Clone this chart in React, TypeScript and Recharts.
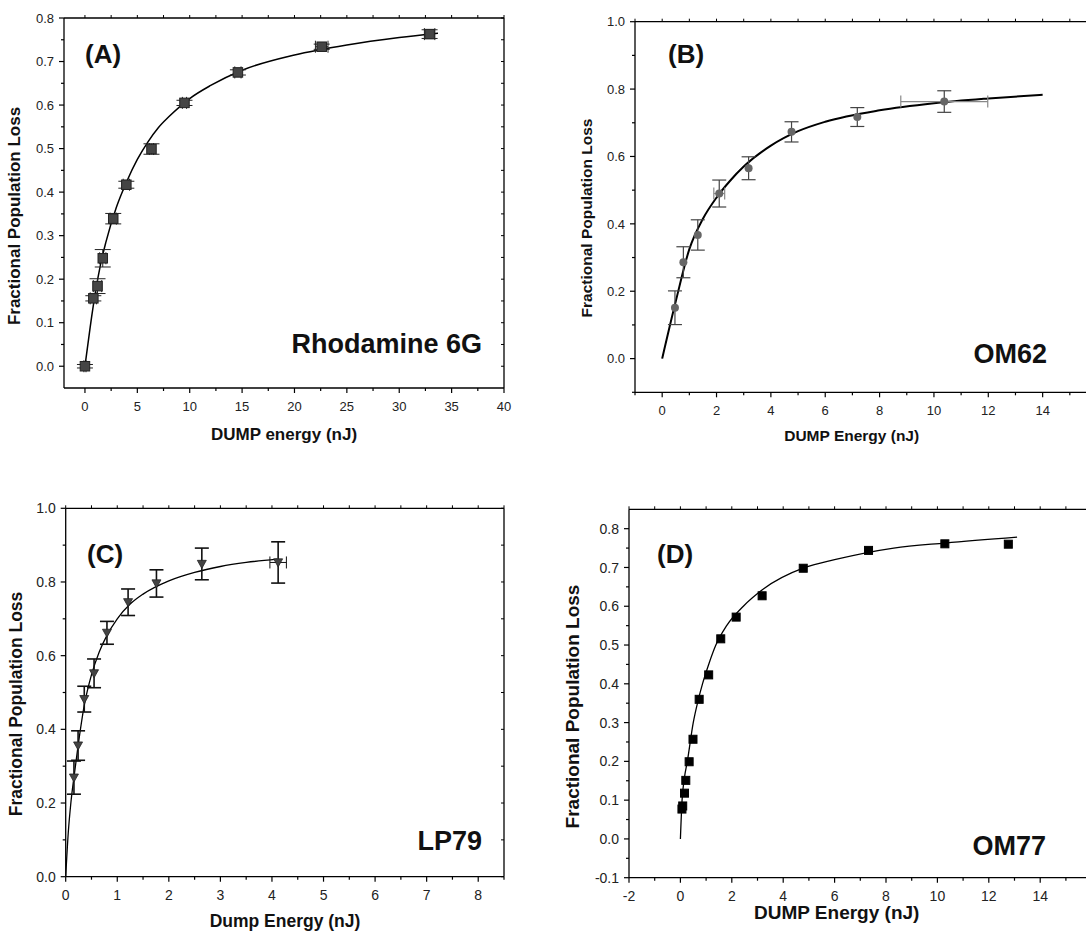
import { ComposedChart, Line, Scatter, XAxis, YAxis, ErrorBar } from "recharts";

const FONT = '"Liberation Sans", Arial, Helvetica, sans-serif';

// (A) Rhodamine 6G
const rhoEnergy = [0, 0.8, 1.2, 1.7, 2.7, 3.95, 6.35, 9.5, 14.6, 22.6, 32.9];
const rhoLoss = [0.0, 0.156, 0.184, 0.248, 0.339, 0.417, 0.499, 0.605, 0.675, 0.734, 0.763];
const rhoErrY = [0.004, 0.006, 0.017, 0.02, 0.012, 0.008, 0.012, 0.006, 0.006, 0.006, 0.01];
const rhoErrX = [0.1, 0.3, 0.4, 0.3, 0.3, 0.3, 0.2, 0.2, 0.3, 0.6, 0.5];
const rhoFitX = [0, 0.5, 1, 1.5, 2, 3, 4, 5, 6, 7, 8, 10, 12, 15, 20, 25, 30, 33.7];
const rhoFitY = [0, 0.09, 0.17, 0.235, 0.285, 0.365, 0.425, 0.475, 0.515, 0.548, 0.573, 0.615, 0.645, 0.68, 0.715, 0.738, 0.755, 0.765];

// (B) OM62
const om62Energy = [0.47, 0.78, 1.31, 2.1, 3.18, 4.76, 7.18, 10.38];
const om62Loss = [0.151, 0.286, 0.367, 0.49, 0.565, 0.673, 0.717, 0.763];
const om62ErrY = [0.05, 0.046, 0.045, 0.04, 0.034, 0.03, 0.028, 0.032];
const om62ErrX = [0, 0, 0, 0.2, 0, 0, 0, 1.6];
const om62FitX = [0, 0.5, 1, 1.5, 2, 2.5, 3, 4, 5, 6, 8, 10, 12, 14];
const om62FitY = [0, 0.17, 0.325, 0.415, 0.478, 0.528, 0.57, 0.632, 0.675, 0.703, 0.737, 0.758, 0.772, 0.783];

// (C) LP79
const lp79Energy = [0.16, 0.24, 0.36, 0.55, 0.8, 1.21, 1.76, 2.64, 4.12];
const lp79Loss = [0.269, 0.356, 0.482, 0.552, 0.662, 0.745, 0.796, 0.849, 0.853];
const lp79ErrY = [0.045, 0.04, 0.035, 0.039, 0.031, 0.036, 0.037, 0.043, 0.056];
const lp79ErrX = [0, 0, 0, 0, 0, 0, 0, 0, 0.16];
const lp79FitX = [0, 0.05, 0.1, 0.16, 0.24, 0.36, 0.5, 0.65, 0.8, 1.0, 1.25, 1.5, 2.0, 2.5, 3.0, 3.5, 4.1];
const lp79FitY = [0, 0.12, 0.2, 0.27, 0.355, 0.465, 0.548, 0.61, 0.655, 0.7, 0.74, 0.767, 0.803, 0.826, 0.842, 0.853, 0.862];

// (D) OM77
const om77Energy = [0.06, 0.09, 0.16, 0.21, 0.34, 0.49, 0.73, 1.1, 1.57, 2.17, 3.18, 4.78, 7.32, 10.29, 12.76];
const om77Loss = [0.077, 0.085, 0.118, 0.151, 0.199, 0.257, 0.36, 0.423, 0.516, 0.572, 0.627, 0.698, 0.744, 0.761, 0.76];
const om77FitX = [0, 0.065, 0.15, 0.27, 0.5, 0.7, 0.86, 1.1, 1.38, 1.8, 2.45, 3.2, 4.85, 6, 8.3, 10.3, 13.1];
const om77FitY = [0, 0.1, 0.155, 0.2, 0.3, 0.36, 0.4, 0.45, 0.5, 0.55, 0.6, 0.643, 0.7, 0.72, 0.75, 0.763, 0.778];

// tick positions
const aXMajor = [0, 5, 10, 15, 20, 25, 30, 35, 40];
const aXMinor = [2.5, 7.5, 12.5, 17.5, 22.5, 27.5, 32.5, 37.5];
const aYMajor = [0, 0.1, 0.2, 0.3, 0.4, 0.5, 0.6, 0.7, 0.8];
const aYMinor = [0.05, 0.15, 0.25, 0.35, 0.45, 0.55, 0.65, 0.75];
const bXMajor = [0, 2, 4, 6, 8, 10, 12, 14];
const bXMinor = [-1, 1, 3, 5, 7, 9, 11, 13, 15];
const bYMajor = [0, 0.2, 0.4, 0.6, 0.8, 1.0];
const bYMinor = [-0.1, 0.1, 0.3, 0.5, 0.7, 0.9];
const cXMajor = [0, 1, 2, 3, 4, 5, 6, 7, 8];
const cXMinor = [0.5, 1.5, 2.5, 3.5, 4.5, 5.5, 6.5, 7.5, 8.5];
const cYMajor = [0, 0.2, 0.4, 0.6, 0.8, 1.0];
const cYMinor = [0.1, 0.3, 0.5, 0.7, 0.9];
const dXMajor = [-2, 0, 2, 4, 6, 8, 10, 12, 14];
const dXMinor = [-1, 1, 3, 5, 7, 9, 11, 13, 15];
const dYMajor = [-0.1, 0, 0.1, 0.2, 0.3, 0.4, 0.5, 0.6, 0.7, 0.8];
const dYMinor = [-0.05, 0.05, 0.15, 0.25, 0.35, 0.45, 0.55, 0.65, 0.75];

type Pt = { x: number; y: number; ey?: number; ex?: number };

const toPoints = (xs: number[], ys: number[], ey?: number[], ex?: number[]): Pt[] =>
  xs.map((x, i) => ({ x, y: ys[i], ey: ey ? ey[i] : undefined, ex: ex ? ex[i] : undefined }));

const isIn = (list: number[], v: number) => list.some((m) => Math.abs(m - v) < 1e-6);
const fmt1 = (v: number) => v.toFixed(1);
const fmt0 = (v: number) => String(v);

function bottomTick(majors: number[], size: number, fmt: (v: number) => string) {
  return (props: any) => {
    const { x, y, payload } = props;
    const major = isIn(majors, payload.value);
    return (
      <g>
        <line x1={x} x2={x} y1={y} y2={y + (major ? 5 : 3)} stroke="#000" strokeWidth={1.2} />
        {major && (
          <text x={x} y={y + 23} textAnchor="middle" fontSize={size} fontFamily={FONT} fill="#222">
            {fmt(payload.value)}
          </text>
        )}
      </g>
    );
  };
}

function leftTick(majors: number[], size: number, fmt: (v: number) => string) {
  return (props: any) => {
    const { x, y, payload } = props;
    const major = isIn(majors, payload.value);
    return (
      <g>
        <line x1={x} x2={x - (major ? 5 : 3)} y1={y} y2={y} stroke="#000" strokeWidth={1.2} />
        {major && (
          <text x={x - 10} y={y} dy="0.36em" textAnchor="end" fontSize={size} fontFamily={FONT} fill="#222">
            {fmt(payload.value)}
          </text>
        )}
      </g>
    );
  };
}

const topTick = (props: any) => (
  <line x1={props.x} x2={props.x} y1={props.y} y2={props.y - 3} stroke="#000" strokeWidth={1} />
);

const rightTick = (props: any) => (
  <line x1={props.x} x2={props.x - 3} y1={props.y} y2={props.y} stroke="#000" strokeWidth={1} />
);

const xTitle = (text: string, cx: number, base: number, size: number) => () => (
  <text x={cx} y={base} textAnchor="middle" fontSize={size} fontWeight="bold" fontFamily={FONT} fill="#111">
    {text}
  </text>
);

const yTitle = (text: string, x: number, cy: number, size: number) => () => (
  <text
    x={x}
    y={cy}
    transform={`rotate(-90 ${x} ${cy})`}
    textAnchor="middle"
    fontSize={size}
    fontWeight="bold"
    fontFamily={FONT}
    fill="#111"
  >
    {text}
  </text>
);

interface PanelProps {
  left: number;
  top: number;
  width: number;
  height: number;
  margin: { top: number; right: number; bottom: number; left: number };
  yAxisWidth: number;
  xDomain: [number, number];
  yDomain: [number, number];
  xMajor: number[];
  xMinor: number[];
  yMajor: number[];
  yMinor: number[];
  tickSize: number;
  xLabel: string;
  xLabelAt: [number, number, number];
  yLabelAt: [number, number, number];
  points: Pt[];
  fit: Pt[];
  fitWidth: number;
  shape: (p: any) => any;
  errY?: { stroke: string; width: number; strokeWidth: number };
  errX?: { stroke: string; width: number; strokeWidth: number };
}

function Panel(p: PanelProps) {
  const xTicks = [...p.xMajor, ...p.xMinor].sort((a, b) => a - b);
  const yTicks = [...p.yMajor, ...p.yMinor].sort((a, b) => a - b);
  const axisLine = { stroke: "#000", strokeWidth: 1.3 };
  return (
    <div style={{ position: "absolute", left: p.left, top: p.top }}>
      <ComposedChart width={p.width} height={p.height} margin={p.margin}>
        <XAxis
          xAxisId="b"
          type="number"
          dataKey="x"
          domain={p.xDomain}
          allowDataOverflow
          ticks={xTicks}
          interval={0}
          tick={bottomTick(p.xMajor, p.tickSize, fmt0)}
          tickLine={false}
          tickSize={0}
          tickMargin={0}
          height={40}
          axisLine={axisLine}
          label={xTitle(p.xLabel, p.xLabelAt[0], p.xLabelAt[1], p.xLabelAt[2])}
        />
        <XAxis
          xAxisId="t"
          orientation="top"
          type="number"
          dataKey="x"
          domain={p.xDomain}
          allowDataOverflow
          ticks={xTicks}
          interval={0}
          tick={topTick}
          tickLine={false}
          tickSize={0}
          tickMargin={0}
          height={1}
          axisLine={axisLine}
        />
        <YAxis
          yAxisId="l"
          type="number"
          dataKey="y"
          domain={p.yDomain}
          allowDataOverflow
          ticks={yTicks}
          interval={0}
          tick={leftTick(p.yMajor, p.tickSize, fmt1)}
          tickLine={false}
          tickSize={0}
          tickMargin={0}
          width={p.yAxisWidth}
          axisLine={axisLine}
          label={yTitle("Fractional Population Loss", p.yLabelAt[0], p.yLabelAt[1], p.yLabelAt[2])}
        />
        <YAxis
          yAxisId="r"
          orientation="right"
          type="number"
          dataKey="y"
          domain={p.yDomain}
          allowDataOverflow
          ticks={yTicks}
          interval={0}
          tick={rightTick}
          tickLine={false}
          tickSize={0}
          tickMargin={0}
          width={1}
          axisLine={axisLine}
        />
        <Line
          xAxisId="b"
          yAxisId="l"
          data={p.fit}
          dataKey="y"
          type="monotone"
          stroke="#000"
          strokeWidth={p.fitWidth}
          dot={false}
          activeDot={false}
          isAnimationActive={false}
        />
        <Scatter
          xAxisId="b"
          yAxisId="l"
          data={p.points}
          dataKey="y"
          shape={p.shape}
          isAnimationActive={false}
        >
          {p.errY && (
            <ErrorBar
              dataKey="ey"
              direction="y"
              width={p.errY.width}
              stroke={p.errY.stroke}
              strokeWidth={p.errY.strokeWidth}
              isAnimationActive={false}
            />
          )}
          {p.errX && (
            <ErrorBar
              dataKey="ex"
              direction="x"
              width={p.errX.width}
              stroke={p.errX.stroke}
              strokeWidth={p.errX.strokeWidth}
              isAnimationActive={false}
            />
          )}
        </Scatter>
      </ComposedChart>
    </div>
  );
}

const square = (s: number, fill: string, stroke: string) => (p: any) => (
  <rect x={p.cx - s / 2} y={p.cy - s / 2} width={s} height={s} fill={fill} stroke={stroke} strokeWidth={1} />
);
const circle = (r: number, fill: string) => (p: any) => <circle cx={p.cx} cy={p.cy} r={r} fill={fill} />;
const downTriangle = (s: number, fill: string) => (p: any) => (
  <polygon
    points={`${p.cx - s / 2},${p.cy - s * 0.4} ${p.cx + s / 2},${p.cy - s * 0.4} ${p.cx},${p.cy + s * 0.5}`}
    fill={fill}
    stroke="#222"
    strokeWidth={0.8}
  />
);

const panelText = { fontFamily: FONT, fontWeight: "bold" as const, fill: "#111" };

export default function App() {
  return (
    <div
      style={{
        position: "absolute",
        left: 0,
        top: 0,
        width: 1086,
        height: 933,
        overflow: "hidden",
        background: "#fff",
      }}
    >
      <Panel
        left={0}
        top={0}
        width={540}
        height={460}
        margin={{ top: 17, right: 35, bottom: 32, left: 0 }}
        yAxisWidth={64}
        xDomain={[-2, 40]}
        yDomain={[-0.05, 0.8]}
        xMajor={aXMajor}
        xMinor={aXMinor}
        yMajor={aYMajor}
        yMinor={aYMinor}
        tickSize={13}
        xLabel="DUMP energy (nJ)"
        xLabelAt={[284, 440, 17]}
        yLabelAt={[20, 216, 17]}
        points={toPoints(rhoEnergy, rhoLoss, rhoErrY, rhoErrX)}
        fit={toPoints(rhoFitX, rhoFitY)}
        fitWidth={1.5}
        shape={square(9.5, "#454545", "#222")}
        errY={{ stroke: "#222", width: 8, strokeWidth: 1 }}
        errX={{ stroke: "#222", width: 6, strokeWidth: 1 }}
      />
      <Panel
        left={540}
        top={0}
        width={560}
        height={460}
        margin={{ top: 20.7, right: 2, bottom: 27.7, left: 0 }}
        yAxisWidth={95}
        xDomain={[-1, 16]}
        yDomain={[-0.1, 1.0]}
        xMajor={bXMajor}
        xMinor={bXMinor}
        yMajor={bYMajor}
        yMinor={bYMinor}
        tickSize={13}
        xLabel="DUMP Energy (nJ)"
        xLabelAt={[311.7, 441, 15.5]}
        yLabelAt={[51.7, 218, 15.5]}
        points={toPoints(om62Energy, om62Loss, om62ErrY, om62ErrX)}
        fit={toPoints(om62FitX, om62FitY)}
        fitWidth={2}
        shape={circle(4, "#666")}
        errY={{ stroke: "#444", width: 7, strokeWidth: 1.2 }}
        errX={{ stroke: "#888", width: 6, strokeWidth: 1.2 }}
      />
      <Panel
        left={0}
        top={460}
        width={540}
        height={473}
        margin={{ top: 47.3, right: 35, bottom: 16.3, left: 0 }}
        yAxisWidth={65.7}
        xDomain={[0, 8.5]}
        yDomain={[0, 1.0]}
        xMajor={cXMajor}
        xMinor={cXMinor}
        yMajor={cYMajor}
        yMinor={cYMinor}
        tickSize={14}
        xLabel="Dump Energy (nJ)"
        xLabelAt={[285, 467, 17.5]}
        yLabelAt={[21.5, 244, 17.5]}
        points={toPoints(lp79Energy, lp79Loss, lp79ErrY, lp79ErrX)}
        fit={toPoints(lp79FitX, lp79FitY)}
        fitWidth={1.3}
        shape={downTriangle(9, "#444")}
        errY={{ stroke: "#111", width: 7, strokeWidth: 1.6 }}
        errX={{ stroke: "#111", width: 6, strokeWidth: 1 }}
      />
      <Panel
        left={540}
        top={460}
        width={560}
        height={473}
        margin={{ top: 48.3, right: 7.4, bottom: 15.3, left: 0 }}
        yAxisWidth={89}
        xDomain={[-2, 16]}
        yDomain={[-0.1, 0.85]}
        xMajor={dXMajor}
        xMinor={dXMinor}
        yMajor={dYMajor}
        yMinor={dYMinor}
        tickSize={14}
        xLabel="DUMP Energy (nJ)"
        xLabelAt={[296.7, 458.6, 19]}
        yLabelAt={[38.7, 246.5, 19]}
        points={toPoints(om77Energy, om77Loss)}
        fit={toPoints(om77FitX, om77FitY)}
        fitWidth={1.3}
        shape={square(8, "#000", "#000")}
      />
      <svg
        width={1086}
        height={933}
        style={{ position: "absolute", left: 0, top: 0, pointerEvents: "none" }}
      >
        <text x={85} y={62.5} fontSize={26} {...panelText}>(A)</text>
        <text x={668} y={62.5} fontSize={26} {...panelText}>(B)</text>
        <text x={87} y={562.5} fontSize={26} {...panelText}>(C)</text>
        <text x={657} y={562.8} fontSize={26} {...panelText}>(D)</text>
        <text x={482} y={353} fontSize={27} textAnchor="end" {...panelText}>Rhodamine 6G</text>
        <text x={1047} y={363} fontSize={27} textAnchor="end" {...panelText}>OM62</text>
        <text x={482} y={850} fontSize={27} textAnchor="end" {...panelText}>LP79</text>
        <text x={1046} y={855} fontSize={27} textAnchor="end" {...panelText}>OM77</text>
      </svg>
    </div>
  );
}
